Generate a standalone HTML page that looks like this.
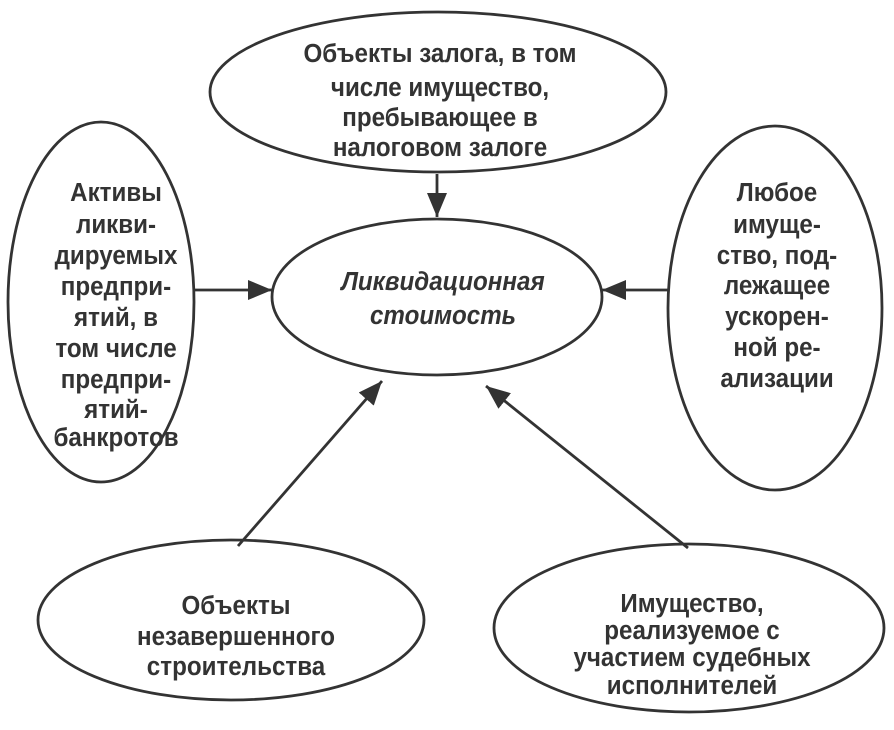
<!DOCTYPE html>
<html><head><meta charset="utf-8"><style>
html,body{margin:0;padding:0;background:#fff}
svg{display:block}
text{font-family:"Liberation Sans",sans-serif;font-weight:bold;font-size:26px;fill:#333;text-anchor:middle}
</style></head><body>
<svg width="894" height="730" viewBox="0 0 894 730" xmlns="http://www.w3.org/2000/svg">
<defs>
<marker id="b" markerWidth="24" markerHeight="20" refX="24" refY="10" orient="auto" markerUnits="userSpaceOnUse"><path d="M0,0 L24,10 L0,20z" fill="#333"/></marker></defs>
<g fill="none" stroke="#333" stroke-width="2.8">
<ellipse cx="438" cy="92" rx="228" ry="80"/>
<ellipse cx="437" cy="297" rx="165" ry="78"/>
<ellipse cx="101" cy="302" rx="93" ry="180"/>
<ellipse cx="775" cy="308" rx="107" ry="182"/>
<ellipse cx="231" cy="620" rx="193" ry="80"/>
<ellipse cx="689" cy="628" rx="195" ry="84"/>
<line x1="437" y1="174" x2="437" y2="217" marker-end="url(#b)"/>
<line x1="195" y1="290" x2="272" y2="290" marker-end="url(#b)"/>
<line x1="668" y1="290" x2="602" y2="290" marker-end="url(#b)"/>
<line x1="238" y1="546" x2="382" y2="381" marker-end="url(#b)"/>
<line x1="688" y1="548" x2="486" y2="386" marker-end="url(#b)"/>
</g>
<g transform="translate(440,0) scale(0.93,1)">
<text x="0" y="62">Объекты залога, в том</text>
<text x="0" y="96">числе имущество,</text>
<text x="0" y="126">пребывающее в</text>
<text x="0" y="156">налоговом залоге</text>
</g>
<g transform="translate(116,0) scale(0.93,1)">
<text x="0" y="201">Активы</text>
<text x="0" y="233">ликви-</text>
<text x="0" y="264">дируемых</text>
<text x="0" y="295">предпри-</text>
<text x="0" y="326">ятий, в</text>
<text x="0" y="357">том числе</text>
<text x="0" y="388">предпри-</text>
<text x="0" y="418">ятий-</text>
<text x="0" y="446">банкротов</text>
</g>
<g transform="translate(777,0) scale(0.93,1)">
<text x="0" y="201">Любое</text>
<text x="0" y="233">имуще-</text>
<text x="0" y="264">ство, под-</text>
<text x="0" y="294">лежащее</text>
<text x="0" y="325">ускорен-</text>
<text x="0" y="356">ной ре-</text>
<text x="0" y="387">ализации</text>
</g>
<g transform="translate(443,0) scale(0.93,1)">
<text x="0" y="290" font-style="italic" font-weight="normal">Ликвидационная</text>
<text x="0" y="324" font-style="italic" font-weight="normal">стоимость</text>
</g>
<g transform="translate(236,0) scale(0.93,1)">
<text x="0" y="614">Объекты</text>
<text x="0" y="645">незавершенного</text>
<text x="0" y="675">строительства</text>
</g>
<g transform="translate(692,0) scale(0.93,1)">
<text x="0" y="612">Имущество,</text>
<text x="0" y="639">реализуемое с</text>
<text x="0" y="666">участием судебных</text>
<text x="0" y="694">исполнителей</text>
</g>
</svg>
</body></html>
